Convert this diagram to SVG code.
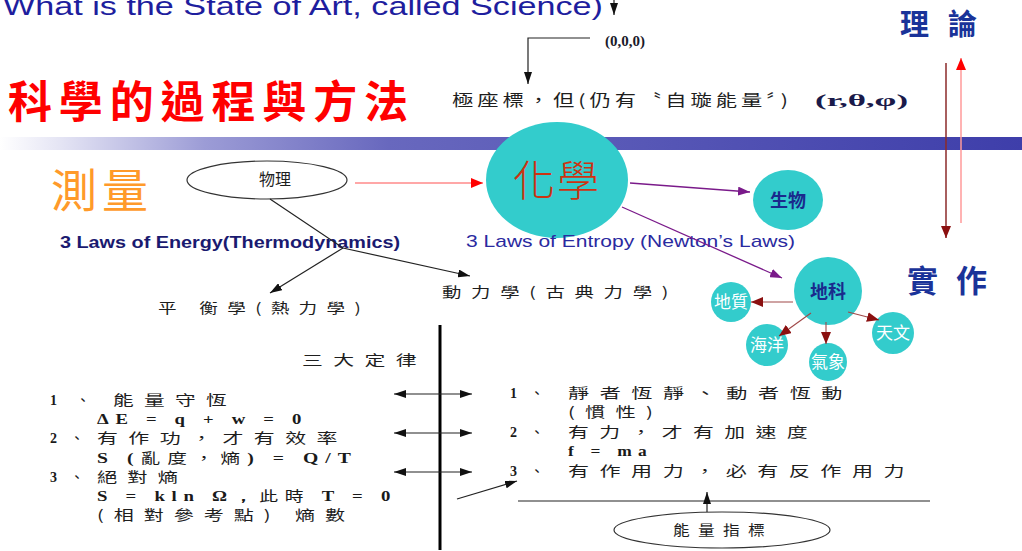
<svg xmlns="http://www.w3.org/2000/svg" width="1022" height="551" viewBox="0 0 1022 551">
<defs>
  <linearGradient id="band" x1="0" y1="0" x2="1022" y2="0" gradientUnits="userSpaceOnUse">
    <stop offset="0" stop-color="#ffffff"/>
    <stop offset="0.06" stop-color="#e4e4f4"/>
    <stop offset="0.2" stop-color="#9c9cd6"/>
    <stop offset="0.38" stop-color="#6868be"/>
    <stop offset="1" stop-color="#3e3eaa"/>
  </linearGradient>
  <marker id="ab" markerUnits="userSpaceOnUse" markerWidth="12" markerHeight="8" refX="12" refY="4" orient="auto"><path d="M0,0 L12,4 L0,8 z" fill="#111"/></marker>
  <marker id="ar" markerUnits="userSpaceOnUse" markerWidth="12" markerHeight="10" refX="12" refY="5" orient="auto"><path d="M0,0 L12,5 L0,10 z" fill="#ff0000"/></marker>
  <marker id="ap" markerUnits="userSpaceOnUse" markerWidth="12" markerHeight="9" refX="12" refY="4.5" orient="auto"><path d="M0,0 L12,4.5 L0,9 z" fill="#7a1a8a"/></marker>
  <marker id="ad" markerUnits="userSpaceOnUse" markerWidth="12" markerHeight="10" refX="12" refY="5" orient="auto"><path d="M0,0 L12,5 L0,10 z" fill="#8b1010"/></marker>
</defs>
<style>
  .cjk{font-family:"Noto Sans CJK TC","Noto Sans CJK SC",sans-serif}
  .body{font-size:14px;fill:#1e1e1e;letter-spacing:7px}
  .num{font-family:"Liberation Serif",serif;font-weight:bold;font-size:14px;fill:#1a1a1a}
  .eq{font-family:"Liberation Serif",serif;font-weight:bold;font-size:14px;fill:#1a1a1a;letter-spacing:5px}
  .bubble{fill:#33cccc}
  .sub{font-size:17px;fill:#ffffff}
  .blue{fill:#1a2a8c;font-weight:bold}
  .ln{fill:none;stroke:#222;stroke-width:1.2}
  .dr{fill:none;stroke:#a04848;stroke-width:1.1}
  .pu{fill:none;stroke:#7a1a8a;stroke-width:1.3}
</style>
<rect width="1022" height="551" fill="#ffffff"/>
<rect id="band-bar" x="0" y="137" width="1022" height="13" fill="url(#band)"/>

<g id="header">
  <text x="3" y="15" font-family="Liberation Sans, sans-serif" font-size="26" fill="#1e1e9e" textLength="600" lengthAdjust="spacingAndGlyphs">What is the State of Art, called Science)</text>
  <text x="8" y="118" class="cjk" font-size="44" font-weight="bold" fill="#ff0000" textLength="400" lengthAdjust="spacing">科學的過程與方法</text>
</g>

<g id="coord-origin">
  <text x="605" y="46" font-family="Liberation Serif, serif" font-weight="bold" font-size="15" fill="#1a1a2a">(0,0,0)</text>
</g>
<g id="polar">
  <text x="452" y="106" class="cjk" font-size="16" fill="#1e1e1e" letter-spacing="3" textLength="340" lengthAdjust="spacingAndGlyphs">極座標，但(仍有〝自璇能量〞)</text>
  <text x="815" y="106" font-family="Liberation Serif, serif" font-weight="bold" font-size="16" fill="#1a1a4a" textLength="93" lengthAdjust="spacingAndGlyphs">(r,θ,φ)</text>
</g>

<g id="theory">
  <text x="900" y="35" class="cjk" font-size="29" font-weight="bold" fill="#1a3399" textLength="77" lengthAdjust="spacing">理論</text>
</g>
<g id="practice">
  <text x="907" y="292" class="cjk" font-size="31" font-weight="bold" fill="#1a3399" textLength="80" lengthAdjust="spacing">實作</text>
</g>

<g id="measure">
  <text x="51" y="207" class="cjk" font-size="46" fill="#ff9a2a" textLength="97" lengthAdjust="spacing">測量</text>
</g>

<g id="physics">
  <ellipse cx="267" cy="180" rx="80" ry="19" fill="#ffffff" stroke="#333" stroke-width="1.2"/>
  <text x="275" y="185" class="cjk" font-size="16" fill="#1e1e1e" text-anchor="middle">物理</text>
</g>

<g id="chemistry">
  <ellipse cx="557" cy="180" rx="71" ry="58" class="bubble"/>
  <text x="556" y="196" class="cjk" font-size="42" font-weight="300" fill="#cc3311" text-anchor="middle" textLength="86" lengthAdjust="spacing">化學</text>
</g>

<g id="biology">
  <ellipse cx="788" cy="200" rx="35" ry="30" class="bubble"/>
  <text x="788" y="207" class="cjk blue" font-size="18" text-anchor="middle">生物</text>
</g>

<g id="earth-science">
  <circle cx="828" cy="291" r="34" class="bubble"/>
  <text x="828" y="298" class="cjk blue" font-size="18" text-anchor="middle">地科</text>
</g>
<g id="geology">
  <circle cx="731" cy="302" r="20" class="bubble"/>
  <text x="731" y="308" class="cjk sub" text-anchor="middle">地質</text>
</g>
<g id="ocean">
  <circle cx="767" cy="345" r="21" class="bubble"/>
  <text x="767" y="351" class="cjk sub" text-anchor="middle">海洋</text>
</g>
<g id="weather">
  <circle cx="828" cy="362" r="19" class="bubble"/>
  <text x="828" y="368" class="cjk sub" text-anchor="middle">氣象</text>
</g>
<g id="astronomy">
  <circle cx="893" cy="333" r="21" class="bubble"/>
  <text x="893" y="339" class="cjk sub" text-anchor="middle">天文</text>
</g>

<g id="laws-energy">
  <text x="60" y="248" font-family="Liberation Sans, sans-serif" font-weight="bold" font-size="17" fill="#1a1a70" textLength="340" lengthAdjust="spacingAndGlyphs">3 Laws of Energy(Thermodynamics)</text>
</g>
<g id="laws-entropy">
  <text x="466" y="247" font-family="Liberation Sans, sans-serif" font-size="17" fill="#2a2aa0" textLength="329" lengthAdjust="spacingAndGlyphs">3 Laws of Entropy (Newton’s Laws)</text>
</g>

<g id="equilibrium">
  <text x="158" y="313" class="cjk body" textLength="212" lengthAdjust="spacingAndGlyphs">平 衡學(熱力學)</text>
</g>
<g id="dynamics">
  <text x="442" y="297" class="cjk body" textLength="236" lengthAdjust="spacingAndGlyphs">動力學(古典力學)</text>
</g>

<g id="three-laws-title">
  <text x="302" y="365" class="cjk body" textLength="125" lengthAdjust="spacingAndGlyphs">三大定律</text>
</g>

<g id="thermo-laws">
  <text x="50" y="405" class="num">1</text><text x="76" y="405" class="cjk body">、</text>
  <text x="113" y="405" class="cjk body" textLength="124" lengthAdjust="spacingAndGlyphs">能量守恆</text>
  <text x="97" y="424" class="eq" textLength="211" lengthAdjust="spacingAndGlyphs">ΔE = q + w = 0</text>
  <text x="50" y="443" class="num">2</text><text x="70" y="443" class="cjk body">、</text>
  <text x="97" y="443" class="cjk body" textLength="251" lengthAdjust="spacingAndGlyphs">有作功，才有效率</text>
  <text x="97" y="463" class="eq" textLength="261" lengthAdjust="spacingAndGlyphs">S (<tspan class="cjk" font-weight="normal">亂度，熵</tspan>) = Q/T</text>
  <text x="50" y="482" class="num">3</text><text x="70" y="482" class="cjk body">、</text>
  <text x="97" y="482" class="cjk body" textLength="91" lengthAdjust="spacingAndGlyphs">絕對熵</text>
  <text x="97" y="501" class="eq" textLength="300" lengthAdjust="spacingAndGlyphs">S = kln Ω，<tspan class="cjk" font-weight="normal">此時</tspan> T = 0</text>
  <text x="97" y="520" class="cjk body" textLength="258" lengthAdjust="spacingAndGlyphs">(相對參考點) 熵數</text>
</g>

<g id="newton-laws">
  <text x="510" y="398" class="num" fill="#5a1a1a">1</text><text x="530" y="398" class="cjk body">、</text>
  <text x="568" y="398" class="cjk body" textLength="285" lengthAdjust="spacingAndGlyphs">靜者恆靜、動者恆動</text>
  <text x="568" y="417" class="cjk body" textLength="95" lengthAdjust="spacingAndGlyphs">(慣性)</text>
  <text x="510" y="437" class="num">2</text><text x="530" y="437" class="cjk body">、</text>
  <text x="568" y="437" class="cjk body" textLength="250" lengthAdjust="spacingAndGlyphs">有力，才有加速度</text>
  <text x="568" y="456" class="eq" textLength="85" lengthAdjust="spacingAndGlyphs">f = ma</text>
  <text x="510" y="476" class="num">3</text><text x="530" y="476" class="cjk body">、</text>
  <text x="568" y="476" class="cjk body" textLength="347" lengthAdjust="spacingAndGlyphs">有作用力，必有反作用力</text>
</g>

<g id="energy-index">
  <ellipse cx="722" cy="530" rx="108" ry="18" fill="#ffffff" stroke="#333" stroke-width="1.2"/>
  <text x="673" y="535" class="cjk body" textLength="100" lengthAdjust="spacingAndGlyphs">能量指標</text>
</g>

<g id="connectors">
  <path d="M614,0 V15" class="ln" marker-end="url(#ab)"/>
  <path d="M590,38 H528 V84" class="ln" marker-end="url(#ab)"/>
  <path d="M946,63 V238" fill="none" stroke="#8b2a2a" stroke-width="1.5" marker-end="url(#ad)"/>
  <path d="M961,223 V58" fill="none" stroke="#ff9a9a" stroke-width="1.5" marker-end="url(#ar)"/>
  <path d="M355,183 H483" fill="none" stroke="#ff8a8a" stroke-width="1.5" marker-end="url(#ar)"/>
  <path d="M630,183 L750,192" class="pu" marker-end="url(#ap)"/>
  <path d="M622,207 L782,278" class="pu" marker-end="url(#ap)"/>
  <path d="M793,302 H751" class="dr" marker-end="url(#ad)"/>
  <path d="M811,313 L779,336" class="dr" marker-end="url(#ad)"/>
  <path d="M826,322 V344" class="dr" marker-end="url(#ad)"/>
  <path d="M848,312 L879,320" class="dr" marker-end="url(#ad)"/>
  <path d="M270,199 L343,248 L470,276" class="ln" marker-end="url(#ab)"/>
  <path d="M343,248 L270,293" class="ln" marker-end="url(#ab)"/>
  <path d="M440,325 V550" fill="none" stroke="#000" stroke-width="3"/>
  <path d="M433,394 H394" class="ln" marker-end="url(#ab)"/>
  <path d="M433,394 H472" class="ln" marker-end="url(#ab)"/>
  <path d="M433,433 H394" class="ln" marker-end="url(#ab)"/>
  <path d="M433,433 H472" class="ln" marker-end="url(#ab)"/>
  <path d="M433,472 H394" class="ln" marker-end="url(#ab)"/>
  <path d="M433,472 H472" class="ln" marker-end="url(#ab)"/>
  <path d="M457,499 L517,481" class="ln" marker-end="url(#ab)"/>
  <path d="M518,501 H930" class="ln"/>
  <path d="M707,512 V492" class="ln" marker-end="url(#ab)"/>
</g>
</svg>
